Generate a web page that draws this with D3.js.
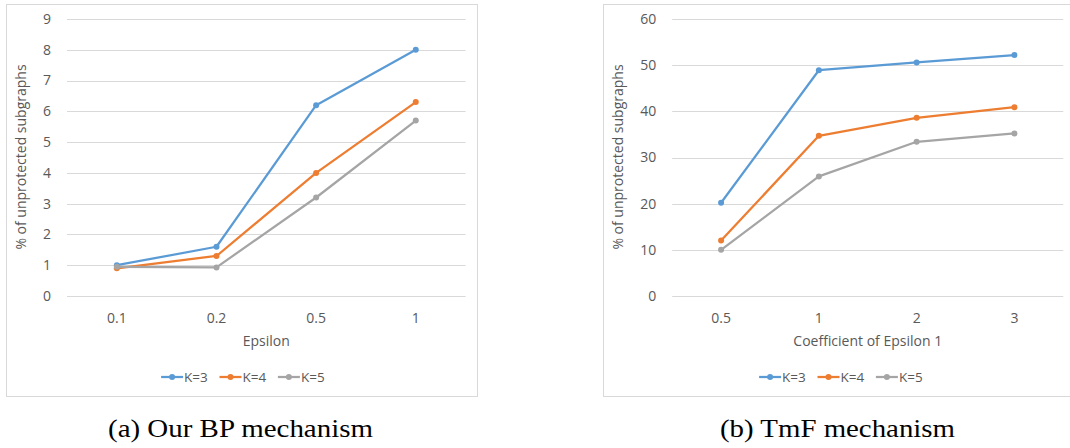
<!DOCTYPE html>
<html lang="en">
<head>
<meta charset="UTF-8"/>
<title>unprotected subgraphs</title>
<script src="https://d3js.org/d3.v7.min.js"></script>
<style type="text/css">
    body { margin: 0; background: #fff; }
    text { font-family: "Open Sans", sans-serif; fill: #595959; }
    .caption { font-family: "Liberation Serif", serif; fill: #000; }
</style>
</head>
<body>
<div id="chart"></div>
<script>

// data
var seriesNames = ["K=3", "K=4", "K=5"]
var colors = ["#5B9BD5", "#ED7D31", "#A5A5A5"]

var bpCategories = ["0.1", "0.2", "0.5", "1"]
var bpK3 = [1.0, 1.6, 6.2, 8.0]
var bpK4 = [0.9, 1.3, 4.0, 6.3]
var bpK5 = [0.95, 0.93, 3.2, 5.7]
var bpTicks = [0, 1, 2, 3, 4, 5, 6, 7, 8, 9]

var tmfCategories = ["0.5", "1", "2", "3"]
var tmfK3 = [20.2, 48.9, 50.6, 52.2]
var tmfK4 = [12.0, 34.7, 38.6, 40.9]
var tmfK5 = [10.0, 25.9, 33.4, 35.2]
var tmfTicks = [0, 10, 20, 30, 40, 50, 60]

var width = 1070, height = 448

var svg = d3.select("#chart").append("svg")
    .attr("width", width)
    .attr("height", height)

// one Excel-style panel
function panel(opt) {
  var g = svg.append("g")

  // frame
  g.append("rect")
    .attr("x", opt.box[0] + 0.5).attr("y", opt.box[1] + 0.5)
    .attr("width", opt.box[2]).attr("height", opt.box[3])
    .attr("fill", "none").attr("stroke", "#D9D9D9")

  var x = d3.scaleBand().domain(opt.categories).range([opt.plot[0], opt.plot[1]])
  var y = d3.scaleLinear().domain([0, d3.max(opt.ticks)]).range([opt.plot[3], opt.plot[2]])

  // gridlines
  g.selectAll(".grid").data(opt.ticks).enter().append("line")
    .attr("x1", opt.plot[0]).attr("x2", opt.plot[1])
    .attr("y1", function(d) { return Math.round(y(d)) + 0.5 })
    .attr("y2", function(d) { return Math.round(y(d)) + 0.5 })
    .attr("stroke", "#D9D9D9").attr("stroke-width", 1)

  // y tick labels
  g.selectAll(".ytick").data(opt.ticks).enter().append("text")
    .attr("x", opt.plot[0] - 16)
    .attr("y", function(d) { return y(d) })
    .attr("dy", "0.35em")
    .attr("text-anchor", "end")
    .style("font-size", "14px")
    .text(function(d) { return d })

  // x tick labels
  g.selectAll(".xtick").data(opt.categories).enter().append("text")
    .attr("x", function(d) { return x(d) + x.bandwidth() / 2 })
    .attr("y", opt.plot[3] + 22)
    .attr("dy", "0.35em")
    .attr("text-anchor", "middle")
    .style("font-size", "14px")
    .text(function(d) { return d })

  // axis titles
  var cx = (opt.plot[0] + opt.plot[1]) / 2
  g.append("text")
    .attr("x", cx).attr("y", 341).attr("dy", "0.35em")
    .attr("text-anchor", "middle")
    .style("font-size", "14px")
    .text(opt.xTitle)

  g.append("text")
    .attr("transform", "translate(" + opt.yTitleX + ",157) rotate(-90)")
    .attr("dy", "0.35em")
    .attr("text-anchor", "middle")
    .style("font-size", "14px")
    .text("% of unprotected subgraphs")

  var line = d3.line()
    .x(function(d, i) { return x(opt.categories[i]) + x.bandwidth() / 2 })
    .y(function(d) { return y(d) })

  opt.series.forEach(function(s, k) {
    g.append("path")
      .datum(s)
      .attr("d", line)
      .attr("fill", "none")
      .attr("stroke", colors[k])
      .attr("stroke-width", 2.25)
      .attr("stroke-linejoin", "round")

    g.selectAll(".dot" + k).data(s).enter().append("circle")
      .attr("cx", function(d, i) { return x(opt.categories[i]) + x.bandwidth() / 2 })
      .attr("cy", function(d) { return y(d) })
      .attr("r", 3)
      .attr("fill", colors[k])
  })

  // legend, centred on the whole frame
  var itemW = 58.4
  var lx = opt.legendX - (itemW * 2 + 47) / 2
  seriesNames.forEach(function(name, k) {
    var ox = lx + k * itemW
    g.append("line")
      .attr("x1", ox).attr("x2", ox + 22)
      .attr("y1", 377).attr("y2", 377)
      .attr("stroke", colors[k]).attr("stroke-width", 2.25)
    g.append("circle")
      .attr("cx", ox + 11).attr("cy", 377).attr("r", 3)
      .attr("fill", colors[k])
    g.append("text")
      .attr("x", ox + 23).attr("y", 377).attr("dy", "0.35em")
      .style("font-size", "13.5px")
      .text(name)
  })

  // caption below the panel
  g.append("text")
    .attr("class", "caption")
    .attr("x", opt.captionX).attr("y", 428).attr("dy", "0.35em")
    .attr("text-anchor", "middle")
    .attr("textLength", opt.captionW)
    .attr("lengthAdjust", "spacingAndGlyphs")
    .style("font-size", "26px")
    .text(opt.caption)
}

panel({
  box: [6, 4, 471, 392],
  plot: [67, 465.6, 19, 296],
  categories: bpCategories,
  series: [bpK3, bpK4, bpK5],
  ticks: bpTicks,
  xTitle: "Epsilon",
  yTitleX: 20.7,
  legendX: 243,
  caption: "(a) Our BP mechanism",
  captionX: 240.5,
  captionW: 265
})

panel({
  box: [603, 4, 475, 392],
  plot: [672.2, 1063.3, 19, 296],
  categories: tmfCategories,
  series: [tmfK3, tmfK4, tmfK5],
  ticks: tmfTicks,
  xTitle: "Coefficient of Epsilon 1",
  yTitleX: 618.4,
  legendX: 841,
  caption: "(b) TmF mechanism",
  captionX: 837.5,
  captionW: 235
})

</script>
</body>
</html>
